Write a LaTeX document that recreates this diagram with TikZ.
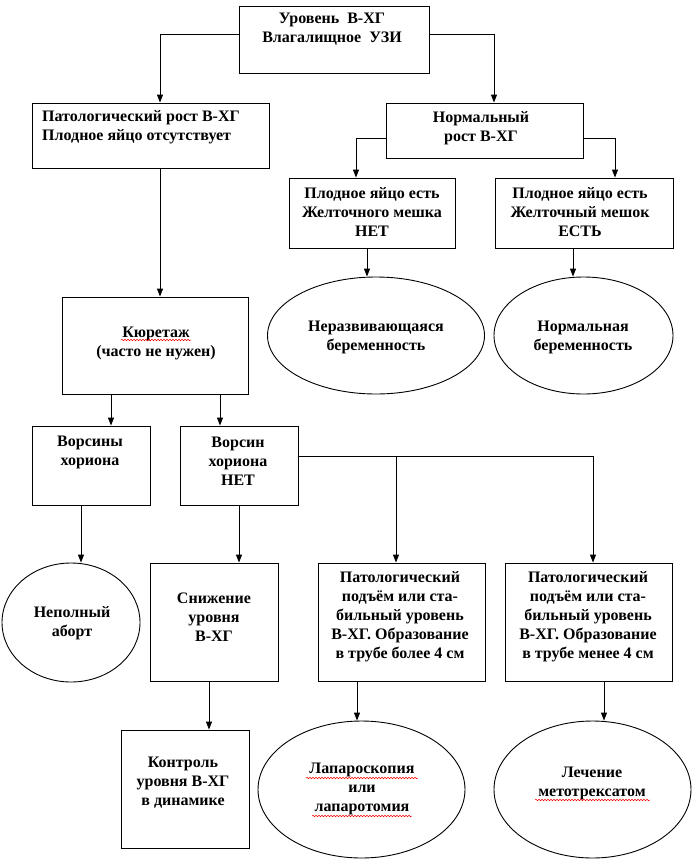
\documentclass[tikz,border=0pt]{standalone}
\usepackage{fontspec}
\setmainfont{Liberation Serif}
\usetikzlibrary{arrows.meta,shapes.geometric,decorations.pathmorphing}
\begin{document}
\begin{tikzpicture}[x=1pt,y=-1pt,
  box/.style={draw, line width=0.9pt, inner sep=0pt},
  oval/.style={draw, ellipse, line width=0.9pt, inner sep=0pt},
  txt/.style={font=\bfseries\fontsize{16}{19}\selectfont, align=center, inner sep=0pt},
  link/.style={line width=0.9pt},
  arr/.style={line width=0.9pt, -{Triangle[length=8pt,width=6pt]}},
  squig/.style={red, line width=0.5pt, decorate, decoration={snake, amplitude=0.8pt, segment length=3pt}}]
\useasboundingbox (0,0) rectangle (695,865);

% boxes
\node[box, minimum width=190pt, minimum height=67pt] (top) at (334,39.5) {};
\node[box, minimum width=237pt, minimum height=65pt] (pat) at (150.5,135.5) {};
\node[box, minimum width=197pt, minimum height=55pt] (normal) at (484.5,130.5) {};
\node[box, minimum width=166pt, minimum height=70pt] (yolk1) at (372,213) {};
\node[box, minimum width=178pt, minimum height=70pt] (yolk2) at (584,213) {};
\node[oval, minimum width=217pt, minimum height=117pt] (ell1) at (376,335.5) {};
\node[oval, minimum width=179pt, minimum height=117pt] (ell2) at (583.5,335.5) {};
\node[box, minimum width=186pt, minimum height=97pt] (cur) at (155,345.5) {};
\node[box, minimum width=118pt, minimum height=79pt] (vors) at (91,465.5) {};
\node[box, minimum width=118pt, minimum height=79pt] (net) at (239,465.5) {};
\node[oval, minimum width=138pt, minimum height=119pt] (nepoln) at (71,622.5) {};
\node[box, minimum width=128pt, minimum height=118pt] (sniz) at (214,622) {};
\node[box, minimum width=167pt, minimum height=118pt] (pat1) at (401.5,622) {};
\node[box, minimum width=167pt, minimum height=118pt] (pat2) at (588.5,622) {};
\node[box, minimum width=128pt, minimum height=118pt] (kontrol) at (185,789) {};
\node[oval, minimum width=207pt, minimum height=137pt] (lap) at (361.5,789.5) {};
\node[oval, minimum width=197pt, minimum height=137pt] (lech) at (592.5,789.5) {};

% texts
\node[txt] (topT) at (332,29.5) {Уровень\ \ В-ХГ\\Влагалищное\ \ УЗИ};
\node[txt, align=left, anchor=west] (patT) at (42,127) {Патологический рост В-ХГ\\Плодное яйцо отсутствует};
\node[txt] (normalT) at (481,128) {Нормальный\\рост В-ХГ};
\node[txt] (yolk1T) at (372,212) {Плодное яйцо есть\\Желточного мешка\\НЕТ};
\node[txt] (yolk2T) at (580,212) {Плодное яйцо есть\\Желточный мешок\\ЕСТЬ};
\node[txt] (ell1T) at (376,337) {Неразвивающаяся\\беременность};
\node[txt] (ell2T) at (583,337) {Нормальная\\беременность};
\node[txt] (curT) at (156,343) {Кюретаж\\(часто не нужен)};
\node[txt] (vorsT) at (90,452) {Ворсины\\хориона};
\node[txt] (netT) at (238,461) {Ворсин\\хориона\\НЕТ};
\node[txt] (nepolnT) at (72,623) {Неполный\\аборт};
\node[txt] (snizT) at (214,617) {Снижение\\уровня\\В-ХГ};
\node[txt] (pat1T) at (400,617) {Патологический\\подъём или ста-\\бильный уровень\\В-ХГ. Образование\\в трубе более 4 см};
\node[txt] (pat2T) at (588,617) {Патологический\\подъём или ста-\\бильный уровень\\В-ХГ. Образование\\в трубе менее 4 см};
\node[txt] (kontrolT) at (183,783) {Контроль\\уровня В-ХГ\\в динамике};
\node[txt] (lapT) at (362,789) {Лапароскопия\\или\\лапаротомия};
\node[txt] (lechT) at (592,783) {Лечение\\метотрексатом};

% spell-check underlines
\draw[squig] (121,340) -- (191,340);
\draw[squig] (306,778) -- (418,778);
\draw[squig] (312,816) -- (412,816);
\draw[squig] (535,800) -- (650,800);

% connectors
\draw[arr] ([yshift=5.5pt]top.west) -| ([xshift=9.5pt]pat.north);
\draw[arr] ([yshift=5.5pt]top.east) -| ([xshift=9.5pt]normal.north);
\draw[arr] ([yshift=-7.5pt]normal.west) -| ([xshift=-16pt]yolk1.north);
\draw[arr] ([yshift=-7.5pt]normal.east) -| ([xshift=31pt]yolk2.north);

\coordinate (y1s) at ([xshift=-5pt]yolk1.south);
\draw[arr] (y1s) -- (y1s |- ell1.north);
\coordinate (y2s) at ([xshift=-11pt]yolk2.south);
\draw[arr] (y2s) -- (y2s |- ell2.north);

\coordinate (ps) at ([xshift=9.5pt]pat.south);
\draw[arr] (ps) -- (ps |- cur.north);

\coordinate (c1) at ([xshift=-44pt]cur.south);
\draw[arr] (c1) -- (c1 |- vors.north);
\coordinate (c2) at ([xshift=65pt]cur.south);
\draw[arr] (c2) -- (c2 |- net.north);

\coordinate (vs) at ([xshift=-10pt]vors.south);
\draw[arr] (vs) -- (vs |- nepoln.north);
\draw[arr] (net.south) -- (sniz.north -| net.south);

\coordinate (br) at ([yshift=9.5pt]net.east);
\coordinate (p1n) at ([xshift=-5.5pt]pat1.north);
\draw[arr] (br) -| ([xshift=4.5pt]pat2.north);
\draw[arr] (br -| p1n) -- (p1n);

\coordinate (ss) at ([xshift=-5pt]sniz.south);
\draw[arr] (ss) -- (ss |- kontrol.north);
\coordinate (p1s) at ([xshift=-44.5pt]pat1.south);
\draw[arr] (p1s) -- (p1s |- lap.north);
\coordinate (p2s) at ([xshift=15.5pt]pat2.south);
\draw[arr] (p2s) -- (p2s |- lech.north);
\end{tikzpicture}
\end{document}
